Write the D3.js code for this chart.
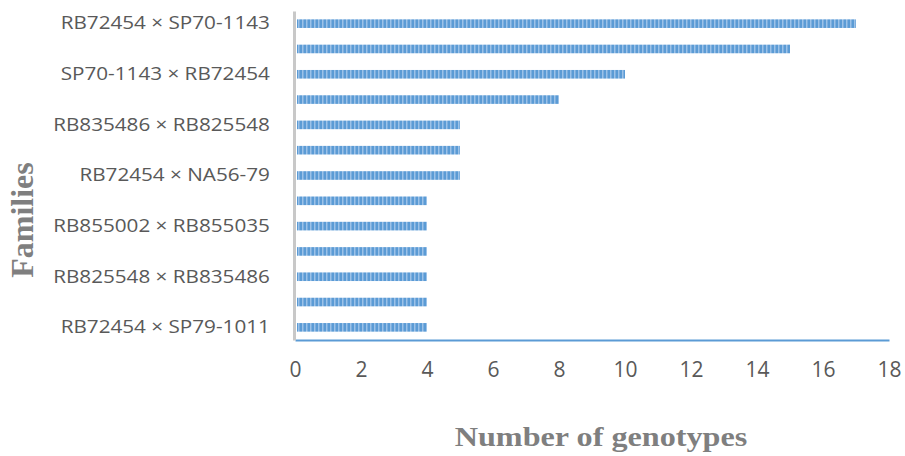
<!DOCTYPE html>
<html>
<head>
<meta charset="utf-8">
<script src="https://cdn.jsdelivr.net/npm/d3@7"></script>
<style>
  html, body { margin: 0; padding: 0; background: #fff; }
  svg { display: block; }
</style>
</head>
<body>
<svg id="chart" width="905" height="456"></svg>
<script>
// Families, top to bottom; only every other name is printed on the axis
const familyLabels = [
  "RB72454 × SP70-1143", "", "SP70-1143 × RB72454", "", "RB835486 × RB825548", "",
  "RB72454 × NA56-79", "", "RB855002 × RB855035", "", "RB825548 × RB835486", "",
  "RB72454 × SP79-1011"
];
// Number of genotypes per family
const genotypeCounts = [17, 15, 10, 8, 5, 5, 5, 4, 4, 4, 4, 4, 4];
const xTicks = [0, 2, 4, 6, 8, 10, 12, 14, 16, 18];

const svg = d3.select("#chart");
const margin = { left: 295, right: 16, top: 11, bottom: 116 };
const W = 905, H = 456;

const x = d3.scaleLinear().domain([0, 18]).range([margin.left, W - margin.right]);
const y = d3.scaleBand()
  .domain(d3.range(genotypeCounts.length))
  .range([margin.top, H - margin.bottom])
  .paddingInner(0.66).paddingOuter(0.33);

// striped fill for the bars
const defs = svg.append("defs");
const pat = defs.append("pattern")
  .attr("id", "stripes").attr("patternUnits", "userSpaceOnUse")
  .attr("width", 4).attr("height", 10);
pat.append("rect").attr("width", 4).attr("height", 10).attr("fill", "#5b9bd5");
pat.append("rect").attr("x", 2).attr("width", 1.5).attr("height", 10).attr("fill", "#9cc2e8");

svg.append("g").selectAll("rect")
  .data(genotypeCounts)
  .join("rect")
  .attr("x", x(0) + 2)
  .attr("y", (d, i) => y(i))
  .attr("width", d => x(d) - x(0) - 2)
  .attr("height", y.bandwidth())
  .attr("fill", "url(#stripes)");

// x axis
const xAxis = svg.append("g")
  .attr("transform", `translate(0,${H - margin.bottom})`)
  .call(d3.axisBottom(x).tickValues(xTicks).tickSize(0).tickPadding(22));
xAxis.select(".domain").attr("stroke", "#5b9bd5").attr("stroke-width", 2);
xAxis.selectAll("text")
  .attr("fill", "#595959")
  .style("font-family", "'Open Sans', sans-serif")
  .style("font-size", "21px");

// y axis; family names use slightly widened glyphs
const yAxis = svg.append("g")
  .attr("transform", `translate(${margin.left - 1},0)`)
  .call(d3.axisLeft(y).tickFormat(i => familyLabels[i]).tickSize(0).tickPadding(21));
yAxis.select(".domain").attr("stroke", "#c8c8c8").attr("stroke-width", 3);
yAxis.selectAll("text")
  .attr("fill", "#595959")
  .attr("transform", "scale(1.15,1)")
  .style("font-family", "'Open Sans', sans-serif")
  .style("font-size", "18px");

// axis titles
svg.append("text")
  .attr("transform", "translate(601,446) scale(1.15,1)")
  .attr("text-anchor", "middle")
  .attr("fill", "#7f7f7f")
  .style("font-family", "'Liberation Serif', serif")
  .style("font-weight", "bold")
  .style("font-size", "28px")
  .text("Number of genotypes");

svg.append("text")
  .attr("transform", "translate(33,220) rotate(-90)")
  .attr("text-anchor", "middle")
  .attr("fill", "#7f7f7f")
  .style("font-family", "'Liberation Serif', serif")
  .style("font-weight", "bold")
  .style("font-size", "32px")
  .text("Families");
</script>
</body>
</html>
